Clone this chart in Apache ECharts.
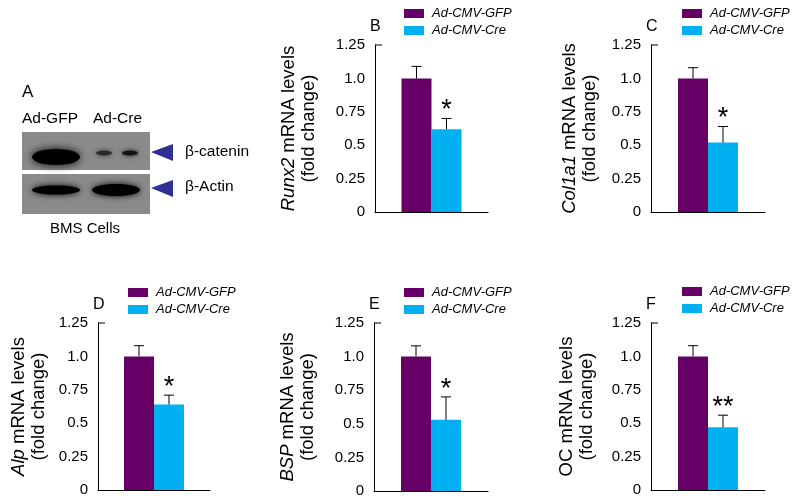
<!DOCTYPE html>
<html>
<head>
<meta charset="utf-8">
<script src="https://cdn.jsdelivr.net/npm/echarts@6/dist/echarts.min.js"></script>
<style>
  html, body { margin: 0; padding: 0; background: #fff; }
  #main { width: 795px; height: 502px; }
</style>
</head>
<body>
<div id="main"></div>
<script>
// 数据
const panelLetters = ['B', 'C', 'D', 'E', 'F']
const genes = ['Runx2', 'Col1a1', 'Alp', 'BSP', 'OC']
const geneItalic = [true, true, true, true, false]
const groups = ['Ad-CMV-GFP', 'Ad-CMV-Cre']
const gfpMean = [1.0, 1.0, 1.0, 1.0, 1.0]
const gfpErr = [0.09, 0.08, 0.08, 0.08, 0.08]
const creMean = [0.62, 0.52, 0.64, 0.53, 0.47]
const creErr = [0.08, 0.12, 0.07, 0.17, 0.09]
const signif = ['*', '*', '*', '*', '**']
const yTickLabels = ['0', '0.25', '0.5', '0.75', '1.0', '1.25']

// 布局
const grids = [
  { left: 375, top: 45, width: 113, height: 167 },
  { left: 651, top: 45, width: 114, height: 167 },
  { left: 98, top: 323, width: 112, height: 167 },
  { left: 374, top: 323, width: 114, height: 168 },
  { left: 651, top: 323, width: 114, height: 167 }
]
const legendPos = [
  { left: 404, top: 7 },
  { left: 682, top: 7 },
  { left: 128, top: 286 },
  { left: 404, top: 286 },
  { left: 682, top: 285 }
]
const nameGaps = [56, 51, 49, 56, 54]
const barW = 30
const purple = '#660066'
const cyan = '#00b0f0'
const font = 'Liberation Sans, Arial, sans-serif'

const chart = echarts.init(document.getElementById('main'))

const xAxis = []
const yAxis = []
const series = []
const legend = []
const title = []
const graphic = []

grids.forEach((g, i) => {
  xAxis.push({
    gridIndex: i,
    type: 'category',
    data: [''],
    axisLine: { lineStyle: { color: '#000', width: 1 } },
    axisTick: { show: false },
    axisLabel: { show: false }
  })
  yAxis.push({
    gridIndex: i,
    type: 'value',
    min: 0,
    max: 1.25,
    interval: 0.25,
    splitLine: { show: false },
    axisLine: { show: true, lineStyle: { color: '#000', width: 1 } },
    axisTick: { show: false },
    axisLabel: {
      color: '#000',
      fontSize: 15,
      fontFamily: font,
      margin: 10,
      formatter: (v) => yTickLabels[Math.round(v / 0.25)]
    },
    name: (geneItalic[i] ? '{i|' + genes[i] + '}' : genes[i]) + ' mRNA levels\n(fold change)',
    nameLocation: 'middle',
    nameRotate: 90,
    nameGap: nameGaps[i],
    nameTextStyle: {
      color: '#000',
      fontSize: 18.5,
      fontFamily: font,
      lineHeight: 20,
      rich: {
        i: { fontStyle: 'italic', fontSize: 18.5, fontFamily: font, color: '#000', lineHeight: 20 }
      }
    }
  })
  series.push({
    name: groups[0],
    type: 'bar',
    xAxisIndex: i,
    yAxisIndex: i,
    data: [gfpMean[i]],
    barWidth: barW,
    barGap: '0%',
    itemStyle: { color: purple },
    z: 2
  })
  series.push({
    name: groups[1],
    type: 'bar',
    xAxisIndex: i,
    yAxisIndex: i,
    data: [creMean[i]],
    barWidth: barW,
    barGap: '0%',
    itemStyle: { color: cyan },
    z: 2
  })
  // 误差线 + 显著性标记
  series.push({
    type: 'custom',
    xAxisIndex: i,
    yAxisIndex: i,
    z: 3,
    data: [
      [0, gfpMean[i], gfpErr[i], -1, ''],
      [0, creMean[i], creErr[i], 1, signif[i]]
    ],
    renderItem: (params, api) => {
      const base = api.coord([api.value(0), api.value(1)])
      const top = api.coord([api.value(0), api.value(1) + api.value(2)])
      const x = base[0] + api.value(3) * barW / 2
      const children = [
        { type: 'line', shape: { x1: x, y1: base[1], x2: x, y2: top[1] }, style: { stroke: '#000', lineWidth: 1 } },
        { type: 'line', shape: { x1: x - 5, y1: top[1], x2: x + 5, y2: top[1] }, style: { stroke: '#000', lineWidth: 1 } }
      ]
      const mark = api.value(4)
      if (mark) {
        children.push({
          type: 'text',
          style: {
            text: mark,
            x: x,
            y: top[1] + 6,
            align: 'center',
            verticalAlign: 'bottom',
            fontSize: 27,
            fontFamily: font,
            fill: '#000'
          }
        })
      }
      return { type: 'group', children: children }
    }
  })
  legend.push({
    data: groups,
    orient: 'vertical',
    left: legendPos[i].left,
    top: legendPos[i].top,
    icon: 'rect',
    itemWidth: 20,
    itemHeight: 9,
    itemGap: 4,
    padding: 0,
    selectedMode: false,
    textStyle: { fontStyle: 'italic', fontSize: 13, fontFamily: font, color: '#000', padding: [0, 0, 0, 3] }
  })
  title.push({
    text: panelLetters[i],
    left: g.left - 5,
    top: g.top - 26,
    padding: 0,
    textStyle: { fontSize: 16, fontWeight: 'normal', fontFamily: font, color: '#000' }
  })
  // 轴顶短横
  graphic.push({
    type: 'line',
    shape: { x1: g.left, y1: g.top, x2: g.left + 7, y2: g.top },
    style: { stroke: '#000', lineWidth: 1 }
  })
})

// A: western blot 示意
const blotBands = [
  { cx: 56, cy: 157, rx: 24, ry: 8, op: 1, blur: 9 },
  { cx: 104, cy: 153, rx: 8, ry: 2.5, op: 0.55, blur: 5 },
  { cx: 130, cy: 153, rx: 8, ry: 2.5, op: 0.75, blur: 5 },
  { cx: 56, cy: 190, rx: 24, ry: 4.5, op: 1, blur: 6 },
  { cx: 116, cy: 190, rx: 24, ry: 6, op: 1, blur: 6 }
]
graphic.push(
  { type: 'text', left: 22, top: 84, style: { text: 'A', fontSize: 17, fontFamily: font, fill: '#000' } },
  { type: 'text', left: 22, top: 111, style: { text: 'Ad-GFP', fontSize: 15.5, fontFamily: font, fill: '#000' } },
  { type: 'text', left: 93, top: 111, style: { text: 'Ad-Cre', fontSize: 15.5, fontFamily: font, fill: '#000' } },
  { type: 'rect', shape: { x: 22, y: 132, width: 128, height: 38 }, style: { fill: '#8a8a8a' } },
  { type: 'rect', shape: { x: 22, y: 174, width: 128, height: 40 }, style: { fill: '#8a8a8a' } }
)
blotBands.forEach((b) => {
  graphic.push({
    type: 'ellipse',
    shape: { cx: b.cx, cy: b.cy, rx: b.rx, ry: b.ry },
    style: { fill: '#000', opacity: b.op, shadowBlur: b.blur, shadowColor: '#000' }
  })
})
graphic.push(
  { type: 'polygon', shape: { points: [[151, 152], [173, 144], [173, 161]] }, style: { fill: '#2e3192' } },
  { type: 'polygon', shape: { points: [[151, 188], [173, 180], [173, 197]] }, style: { fill: '#2e3192' } },
  { type: 'text', left: 185, top: 144, style: { text: 'β-catenin', fontSize: 15.5, fontFamily: font, fill: '#000' } },
  { type: 'text', left: 185, top: 179, style: { text: 'β-Actin', fontSize: 15.5, fontFamily: font, fill: '#000' } },
  { type: 'text', left: 50, top: 221, style: { text: 'BMS Cells', fontSize: 15, fontFamily: font, fill: '#000' } }
)

chart.setOption({
  animation: false,
  backgroundColor: '#fff',
  title: title,
  legend: legend,
  grid: grids,
  xAxis: xAxis,
  yAxis: yAxis,
  series: series,
  graphic: graphic
})
</script>
</body>
</html>
